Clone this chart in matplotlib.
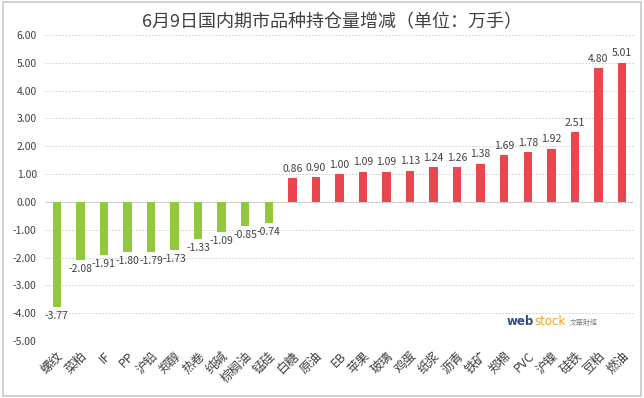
import matplotlib
matplotlib.use("Agg")
import matplotlib.pyplot as plt

plt.rcParams['font.family'] = ['Noto Sans CJK SC', 'DejaVu Sans']

# data (unit: 10k lots)
names = ['螺纹', '菜粕', 'IF', 'PP', '沪铅', '郑醇', '热卷', '纯碱', '棕榈油', '锰硅',
         '白糖', '原油', 'EB', '苹果', '玻璃', '鸡蛋', '纸浆', '沥青', '铁矿', '郑棉',
         'PVC', '沪镍', '硅铁', '豆粕', '燃油']
changes = [-3.77, -2.08, -1.91, -1.80, -1.79, -1.73, -1.33, -1.09, -0.85, -0.74,
           0.86, 0.90, 1.00, 1.09, 1.09, 1.13, 1.24, 1.26, 1.38, 1.69,
           1.78, 1.92, 2.51, 4.80, 5.01]
yticks = [6, 5, 4, 3, 2, 1, 0, -1, -2, -3, -4, -5]

green = '#92C83E'
red = '#E9474D'
txt = '#404040'

fig = plt.figure(figsize=(6.44, 3.98), dpi=100)
ax = fig.add_axes([0.070, 0.143, 0.914, 0.769])

x = list(range(len(names)))
colors = [green if v < 0 else red for v in changes]
ax.bar(x, changes, width=0.36, color=colors, zorder=3)

for i, v in enumerate(changes):
    if v < 0:
        ax.text(i, v - 0.15, f'{v:.2f}', ha='center', va='top', fontsize=7.5, color=txt)
    else:
        ax.text(i, v + 0.15, f'{v:.2f}', ha='center', va='bottom', fontsize=7.5, color=txt)

ax.set_xlim(-0.5, len(names) - 0.5)
ax.set_ylim(-5, 6)
ax.set_yticks(yticks)
ax.set_yticklabels([f'{t:.2f}' for t in yticks], fontsize=7.5, color=txt)
ax.yaxis.grid(True, color='#c8c8c8', linestyle=(0, (2, 2)), linewidth=0.6, zorder=0)
ax.axhline(0, color='#d0d0d0', linewidth=0.8, zorder=2)
ax.set_xticks(x)
ax.set_xticklabels(names, rotation=45, ha='right', rotation_mode='anchor',
                   fontsize=9, color=txt)
ax.tick_params(axis='x', length=0, pad=6)
ax.tick_params(axis='y', length=0, pad=6)
for s in ax.spines.values():
    s.set_visible(False)

fig.text(0.516, 0.945, '6月9日国内期市品种持仓量增减（单位：万手）', ha='center', va='center',
         fontsize=13, color='#404040')

# watermark
fig.text(0.787, 0.192, 'web', fontsize=8.5, color='#2a4a8a', fontweight='bold', ha='left', va='center',
         family='DejaVu Sans')
fig.text(0.830, 0.192, 'stock', fontsize=8.5, color='#f0a020', ha='left', va='center',
         family='DejaVu Sans')
fig.text(0.885, 0.188, '文華財經', fontsize=5, color='#808080', ha='left', va='center')

# outer border
fig.patches.append(plt.Rectangle((0.004, 0.004), 0.992, 0.992, transform=fig.transFigure,
                                 fill=False, edgecolor='#c8c8c8', linewidth=1.2))

fig.savefig('out.png', dpi=100)
